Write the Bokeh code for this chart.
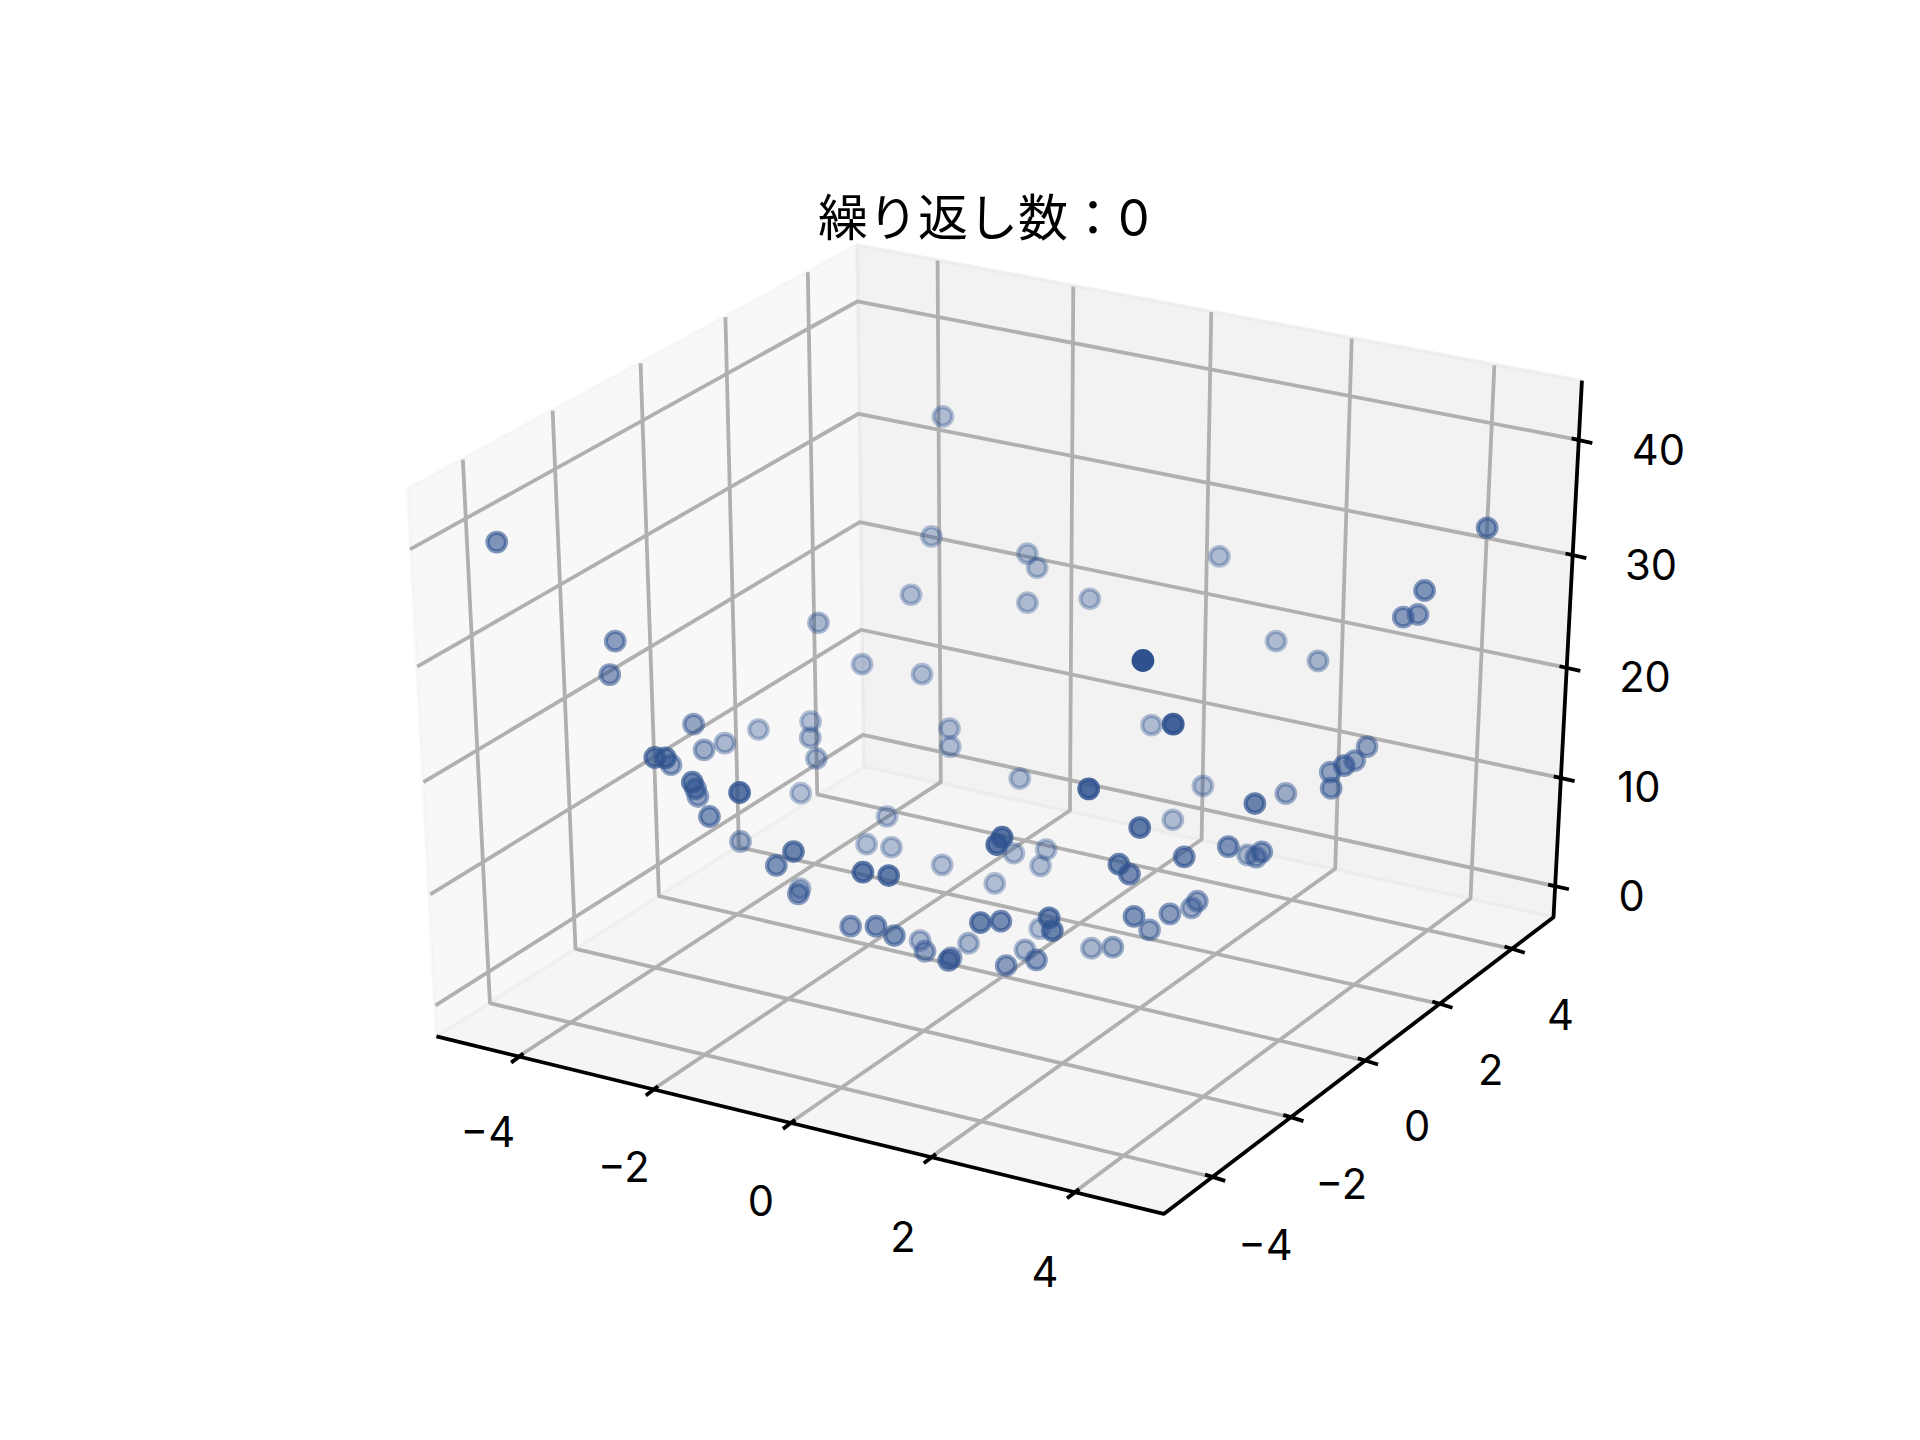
from bokeh.plotting import figure
from bokeh.models import Range1d, ColumnDataSource
from bokeh.core.properties import value
from bokeh.embed import file_html
from bokeh.resources import INLINE

TITLE = "繰り返し数：0"

# scatter points (projected position, depth shade)
point_x = [405.3,769.6,760.3,743.6,668.0,502.0,497.6,703.6,752.6,566.0,574.6,591.6,619.0,661.6,661.3,666.3,775.0,775.6,
           534.3,543.0,547.6,565.0,567.6,569.6,603.6,653.6,579.0,724.0,604.3,647.6,633.6,707.3,727.6,704.3,725.3,769.0,
           812.0,818.0,813.6,827.6,653.0,651.6,694.3,715.0,730.0,751.0,755.0,776.3,774.3,790.6,800.3,817.0,821.3,
           933.0,957.7,940.0,1076.0,1116.0,1106.0,1097.4,1086.0,1086.7,1049.7,1024.4,982.0,888.7,832.4,930.4,957.4,966.7,
           1002.7,1018.4,1025.4,1030.0,913.4,922.0,854.0,849.4,925.7,938.4,955.0,972.7,977.4,856.4,859.0,848.7,846.0,836.7,
           891.0,908.4,838.6,846.6,838.6,889.6,995.4,1041.7,1214.1,1163.0,1145.6,1157.6]
point_y = [442.3,339.7,437.7,485.3,508.2,523.2,550.5,542.0,550.2,591.0,612.0,606.5,595.4,588.8,601.9,619.0,594.6,609.3,
           618.2,618.5,624.2,638.4,643.8,650.1,646.8,647.4,666.4,666.4,686.8,695.0,706.4,689.0,691.5,711.9,714.6,705.9,
           721.1,683.3,689.3,696.4,725.5,729.6,756.0,756.0,763.6,767.7,776.4,781.8,784.0,769.9,753.0,751.9,788.1,
           539.0,591.0,591.8,539.3,609.3,620.7,624.8,630.2,643.3,647.6,655.8,641.4,643.8,635.4,675.4,669.1,699.4,
           691.0,697.7,699.6,695.3,705.4,713.5,693.4,706.7,748.0,759.0,745.9,741.0,735.6,749.2,759.5,758.0,783.5,775.3,
           774.0,773.1,451.8,463.3,491.8,488.6,454.0,523.2,430.6,481.8,503.6,501.4]
point_shade = [.6,.35,.35,.35,.4,.55,.55,.35,.35,.5,.45,.4,.35,.35,.4,.4,.35,.35,
               .7,.7,.5,.7,.6,.5,.8,.35,.6,.35,.45,.7,.6,.35,.35,.75,.75,.35,
               .35,.8,.8,.35,.4,.55,.55,.6,.6,.4,.5,.55,.65,.4,.7,.65,.55,
               1.0,.9,.35,.4,.5,.5,.6,.5,.55,.45,.7,.35,.85,.35,.75,.35,.65,
               .6,.4,.5,.55,.7,.65,.35,.35,.6,.5,.55,.45,.5,.7,.7,.35,.55,.4,
               .4,.45,.35,.35,.35,.35,.35,.35,.6,.6,.55,.55]

# box outline
left_top = (332.5, 398.6); back_top = (699.6, 199.5); right_top = (1291.5, 310.5)
right_bottom = (1268.3, 748.6); back_bottom = (705.0, 625.6)
left_bottom = (356.0, 846.0); front_bottom = (950.0, 991.0)

# z gridlines: left end, back corner, right end
z_left = [(334.4,448.3),(340.3,544.0),(345.4,638.4),(351.0,730.0),(355.3,820.7)]
z_back = [(699.7,245.8),(700.7,337.5),(701.7,426.0),(702.7,513.9),(704.3,599.7)]
z_right = [(1288.5,358.8),(1283.6,452.8),(1278.7,544.9),(1274.0,634.9),(1269.4,723.2)]
# x gridlines: top of back wall, bottom of back wall, front axis
x_top = [(765.3,212.3),(876.1,233.6),(988.8,254.5),(1103.5,276.0),(1220.0,298.0)]
x_mid = [(767.9,638.4),(873.4,661.5),(980.9,685.2),(1090.0,709.1),(1200.5,733.4)]
x_front = [(423.0,862.4),(533.0,889.2),(645.0,916.5),(760.0,944.6),(877.0,973.2)]
# y gridlines: top of left wall, bottom of left wall, right axis
y_top = [(377.6,375.0),(450.9,334.8),(522.7,296.2),(592.0,258.6),(659.3,221.9)]
y_mid = [(399.7,818.8),(469.6,774.5),(537.7,731.5),(603.0,691.4),(667.0,648.4)]
y_front = [(989.7,960.8),(1053.6,912.0),(1114.5,865.7),(1175.3,819.4),(1234.3,774.5)]

# tick labels
z_labels = ["40","30","20","10","0"]
z_label_pos = [(1354,367),(1348,461),(1343,552),(1338,642),(1332,731)]
x_labels = ["−4","−2","0","2","4"]
x_label_pos = [(398,924),(509,952),(621,980),(737,1009),(853,1038)]
y_labels = ["−4","−2","0","2","4"]
y_label_pos = [(1033,1016),(1095,966),(1157,919),(1217,873),(1274,828)]
title_pos = (803, 178)

NAVY = "#2F528F"
GRID = "#b0b0b0"
FONT = value("Inter, Noto Sans CJK JP")
K = 1920 / 1568

p = figure(width=1904, height=1424, output_backend="svg", toolbar_location=None,
           x_range=Range1d(0, 1904 / K), y_range=Range1d(1424 / K, 0),
           min_border=0, background_fill_color="white", border_fill_color="white")
p.axis.visible = False
p.grid.visible = False
p.outline_line_color = None


def pane(corners, grey):
    c = f"rgb({grey},{grey},{grey})"
    p.patch([q[0] for q in corners], [q[1] for q in corners], fill_color=c, fill_alpha=0.5,
            line_color=c, line_alpha=0.5, line_width=3.3)


pane([left_top, back_top, back_bottom, left_bottom], 242)
pane([back_top, right_top, right_bottom, back_bottom], 230)
pane([left_bottom, back_bottom, right_bottom, front_bottom], 236)

grid_paths = [list(t) for t in zip(z_left, z_back, z_right)] + \
             [list(t) for t in zip(x_top, x_mid, x_front)] + \
             [list(t) for t in zip(y_top, y_mid, y_front)]
p.multi_line([[q[0] for q in g] for g in grid_paths], [[q[1] for q in g] for g in grid_paths],
             line_color=GRID, line_width=3.8)

axis_path = [left_bottom, front_bottom, right_bottom, right_top]
p.line([q[0] for q in axis_path], [q[1] for q in axis_path], line_color="black", line_width=3.8)

# tick marks extend a little either side of each axis crossing
tick_paths = []
for q in z_right:
    tick_paths.append([(q[0] - 5.5, q[1] - 1.2), (q[0] + 11.5, q[1] + 2.6)])
for q in x_front:
    tick_paths.append([(q[0] + 4, q[1] - 2.5), (q[0] - 6, q[1] + 5)])
for q in y_front:
    tick_paths.append([(q[0] - 6, q[1] - 1.9), (q[0] + 10.5, q[1] + 3.2)])
p.multi_line([[q[0] for q in t] for t in tick_paths], [[q[1] for q in t] for t in tick_paths],
             line_color="black", line_width=3.8)

order = sorted(range(len(point_x)), key=lambda i: point_shade[i])
src = ColumnDataSource(dict(x=[point_x[i] for i in order], y=[point_y[i] for i in order],
                            a=[point_shade[i] for i in order]))
p.scatter("x", "y", source=src, size=18.6, fill_color=NAVY, line_color=NAVY, line_width=4.17,
          fill_alpha="a", line_alpha="a")

labels = z_labels + x_labels + y_labels
pos = z_label_pos + x_label_pos + y_label_pos
p.text([q[0] for q in pos], [q[1] for q in pos], text=labels, text_font=FONT, text_font_size="41.67px",
       text_align="center", text_baseline="middle", text_color="black")
p.text([title_pos[0]], [title_pos[1]], text=[TITLE], text_font=FONT, text_font_size="50px",
       text_align="center", text_baseline="middle", text_color="black")

open("out.html", "w").write(file_html(p, INLINE))
